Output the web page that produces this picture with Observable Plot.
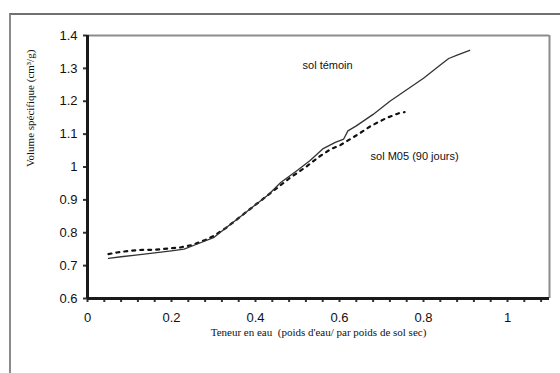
<!DOCTYPE html>
<html><head><meta charset="utf-8">
<script src="https://cdn.jsdelivr.net/npm/d3@7"></script>
<script src="https://cdn.jsdelivr.net/npm/@observablehq/plot@0.6"></script>
<style>
body{margin:0;background:#fff;}
#wrap{position:relative;width:560px;height:373px;overflow:hidden;}
#outer{position:absolute;left:9px;top:13px;width:600px;height:400px;border-left:2px solid #8a8a8a;border-top:2px solid #707070;}
#chart{position:absolute;left:0;top:0;}
</style></head>
<body>
<div id="wrap"><div id="outer"></div><div id="chart"></div></div>
<script>
const temoinX = [0.05,0.08,0.12,0.16,0.20,0.23,0.26,0.30,0.33,0.36,0.40,0.43,0.46,0.50,0.53,0.56,0.59,0.61,0.62,0.64,0.68,0.72,0.76,0.80,0.84,0.86,0.88,0.91];
const temoinY = [0.722,0.727,0.733,0.739,0.745,0.750,0.765,0.785,0.815,0.845,0.885,0.915,0.953,0.990,1.020,1.055,1.075,1.085,1.110,1.125,1.160,1.200,1.235,1.270,1.310,1.330,1.340,1.355];
const m05X = [0.05,0.07,0.10,0.13,0.16,0.19,0.22,0.25,0.28,0.30,0.33,0.36,0.40,0.44,0.48,0.52,0.55,0.58,0.60,0.645,0.675,0.71,0.74,0.755];
const m05Y = [0.735,0.740,0.745,0.748,0.748,0.752,0.755,0.763,0.778,0.790,0.815,0.845,0.885,0.925,0.965,1.000,1.030,1.055,1.065,1.100,1.125,1.148,1.163,1.167];
const xMinorTicks = d3.range(0, 28).map(i => +(i*0.04).toFixed(2));
const yTicks = [0.6,0.7,0.8,0.9,1,1.1,1.2,1.3,1.4];
const annotations = [
  {x: 0.512, y: 1.309, text: "sol témoin"},
  {x: 0.674, y: 1.032, text: "sol M05 (90 jours)"}
];
const xLabel = "Teneur en eau  (poids d'eau/ par poids de sol sec)";
const yLabel = "Volume spécifique (cm³/g)";

const temoin = temoinX.map((x,i)=>({x, y: temoinY[i]}));
const m05 = m05X.map((x,i)=>({x, y: m05Y[i]}));
const fmt = d => String(+d.toFixed(2));
const isMajor = d => Math.abs(d*5 - Math.round(d*5)) < 1e-9;

const chart = Plot.plot({
  width: 560, height: 373,
  marginLeft: 87, marginRight: 11, marginTop: 35, marginBottom: 75,
  x: {domain: [0, 1.1]},
  y: {domain: [0.6, 1.4]},
  style: {fontFamily: "'Liberation Sans', Arial, sans-serif", background: "transparent"},
  marks: [
    Plot.ruleY([1.4], {stroke: "#8c8c8c", strokeWidth: 2}),
    Plot.ruleX([1.1], {stroke: "#8c8c8c", strokeWidth: 2}),
    Plot.axisY({ticks: yTicks, tickFormat: fmt, tickSize: 4, tickPadding: 6, fontSize: 13, label: null, stroke: "#333", strokeWidth: 2, fill: "#111"}),
    Plot.axisX({ticks: xMinorTicks, tickFormat: d => isMajor(d) ? fmt(d) : "", tickSize: 4, tickPadding: 10, fontSize: 13, label: null, stroke: "#333", strokeWidth: 2, fill: "#111"}),
    Plot.ruleX([0], {stroke: "#1a1a1a", strokeWidth: 3}),
    Plot.ruleY([0.6], {stroke: "#1a1a1a", strokeWidth: 3}),
    Plot.line(m05, {x: "x", y: "y", stroke: "#111", strokeWidth: 2.2, strokeDasharray: "3,5"}),
    Plot.line(temoin, {x: "x", y: "y", stroke: "#333", strokeWidth: 1.3}),
    Plot.text(annotations, {x: "x", y: "y", text: "text", textAnchor: "start", fontSize: 11, fill: "#111", style: "letter-spacing:1.6px"}),
    Plot.text([xLabel], {frameAnchor: "bottom", dy: 37, fontSize: 11, fontFamily: "'Liberation Serif', 'Times New Roman', serif", fill: "#111", style: "letter-spacing:1.1px"}),
    Plot.text([yLabel], {frameAnchor: "left", dx: -57, rotate: -90, fontSize: 11, fontFamily: "'Liberation Serif', 'Times New Roman', serif", fill: "#111", style: "letter-spacing:1.3px"})
  ]
});
document.getElementById("chart").appendChild(chart);
</script>
</body></html>
